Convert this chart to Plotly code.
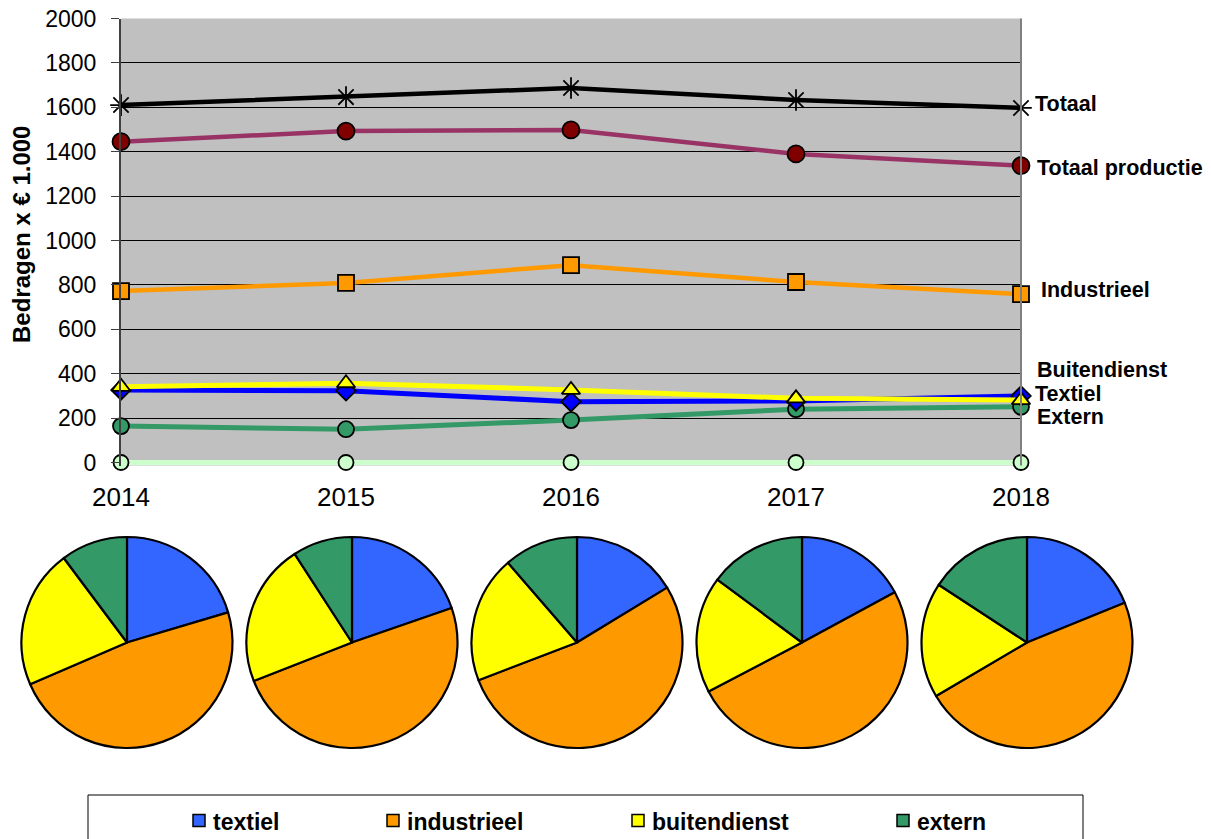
import plotly.graph_objects as go

W, H = 1211, 839

years = [2014, 2015, 2016, 2017, 2018]
totaal = [1610, 1646, 1687, 1633, 1597]
totaal_productie = [1445, 1493, 1498, 1390, 1337]
industrieel = [772, 809, 889, 813, 758]
buitendienst = [341, 357, 327, 289, 281]
textiel = [327, 323, 274, 277, 300]
extern = [164, 150, 191, 240, 251]
nul = [0, 0, 0, 0, 0]

pie_labels = ["textiel", "industrieel", "buitendienst", "extern"]
pie_colors = ["#3366ff", "#ff9900", "#ffff00", "#339966"]

y_ticks = list(range(0, 2001, 200))
y_title = "Bedragen x \u20ac 1.000"

FONT = "Arial, 'Liberation Sans', sans-serif"

# pixel layout helpers (margins are zero, so paper coords map to pixels)
def px(x):
    return x / W

def py(y):
    return 1 - y / H

X0, X1 = 121, 1021
Y_ZERO, Y_TOP = 462.5, 18.5
UNITS_PER_PX = 2000 / (Y_ZERO - Y_TOP)
EXT = 3  # extend plot area slightly below 0 so the zero line is not clipped
Y_BOTTOM = Y_ZERO + EXT

fig = go.Figure()

series = [
    ("Nul", nul, "#ccffcc", "circle", "#ccffcc", 15, 5),
    ("Extern", extern, "#339966", "circle", "#339966", 16, 5),
    ("Textiel", textiel, "#0000ff", "diamond", "#0000ff", 15, 5),
    ("Buitendienst", buitendienst, "#ffff00", "triangle-up", "#ffff00", 16, 5),
    ("Industrieel", industrieel, "#ff9900", "square", "#ff9900", 16, 4.5),
    ("Totaal productie", totaal_productie, "#993366", "circle", "#800000", 17, 4.5),
    ("Totaal", totaal, "#000000", "asterisk-open", "#000000", 18, 4.5),
]

for name, vals, lc, sym, fc, ms, lw in series:
    fig.add_trace(go.Scatter(
        x=years, y=vals, name=name, mode="lines+markers",
        line=dict(color=lc, width=lw),
        marker=dict(symbol=sym, size=ms, color=fc,
                    line=dict(color="#000000", width=1.8)),
        cliponaxis=False, showlegend=False,
    ))

# right-hand labels
label_specs = [
    ("Totaal", totaal[-1], 12, 4),
    ("Totaal productie", totaal_productie[-1], 14, -2),
    ("Industrieel", industrieel[-1], 18, 4),
    ("Buitendienst", buitendienst[-1], 14, 30),
    ("Textiel", textiel[-1], 12, 2),
    ("Extern", extern[-1], 14, -10),
]
annotations = []
for txt, v, xs, ys in label_specs:
    annotations.append(dict(
        x=years[-1], y=v, xref="x", yref="y", text=txt, showarrow=False,
        xanchor="left", yanchor="middle", xshift=xs, yshift=ys,
        font=dict(family=FONT, size=21.5, color="#000000", weight="bold"),
    ))

annotations.append(dict(
    x=px(21), y=py(235), xref="paper", yref="paper", text=y_title,
    showarrow=False, textangle=-90, xanchor="center", yanchor="middle",
    font=dict(family=FONT, size=24, color="#000000", weight="bold"),
))

# pies, one per year
R = 105.5
for i, yr in enumerate(years):
    vals = [textiel[i], industrieel[i], buitendienst[i], extern[i]]
    cx = 127 + (X1 - X0) * i / (len(years) - 1)
    cy = 642.5
    fig.add_trace(go.Pie(
        labels=pie_labels, values=vals, sort=False, direction="clockwise",
        rotation=0, textinfo="none", showlegend=False, automargin=False,
        marker=dict(colors=pie_colors, line=dict(color="#000000", width=2.2)),
        domain=dict(x=[px(cx - R), px(cx + R)], y=[py(cy + R), py(cy - R)]),
        name=str(yr),
    ))

# manual legend box
shapes = [
    dict(type="rect", xref="paper", yref="paper",
         x0=px(88), x1=px(1083), y0=py(860), y1=py(795),
         line=dict(color="#000000", width=1), fillcolor="rgba(0,0,0,0)"),
    dict(type="line", xref="x domain", yref="y domain",
         x0=1, x1=1, y0=0, y1=1, line=dict(color="#808080", width=2)),
]
sq_x = [193, 387, 632, 897]
for lab, col, sx in zip(pie_labels, pie_colors, sq_x):
    shapes.append(dict(type="rect", xref="paper", yref="paper",
                       x0=px(sx), x1=px(sx + 12), y0=py(826.5), y1=py(814.5),
                       line=dict(color="#000000", width=1.5), fillcolor=col))
    annotations.append(dict(
        x=px(sx + 18), y=py(821.5), xref="paper", yref="paper", text=lab,
        showarrow=False, xanchor="left", yanchor="middle",
        font=dict(family=FONT, size=23, color="#000000", weight="bold"),
    ))

fig.update_layout(
    width=W, height=H, margin=dict(l=0, r=0, t=0, b=0, pad=0),
    paper_bgcolor="#ffffff", plot_bgcolor="#c0c0c0",
    showlegend=False,
    xaxis=dict(domain=[px(X0), px(X1)], range=[2014, 2018],
               tickvals=years, ticktext=[str(y) for y in years],
               showgrid=False, zeroline=False, showline=False, ticks="",
               ticklabelstandoff=13, automargin=False,
               tickfont=dict(family=FONT, size=26, color="#000000")),
    yaxis=dict(domain=[py(Y_BOTTOM), py(Y_TOP)],
               range=[-EXT * UNITS_PER_PX, 2000], tickvals=y_ticks,
               showgrid=True, gridcolor="#000000", gridwidth=1,
               zeroline=False, showline=True, linecolor="#404040", linewidth=2,
               ticks="outside", ticklen=8, tickcolor="#404040", tickwidth=1,
               ticklabelstandoff=10, automargin=False,
               tickfont=dict(family=FONT, size=23, color="#000000")),
    annotations=annotations, shapes=shapes,
)

fig.write_html("out.html")
